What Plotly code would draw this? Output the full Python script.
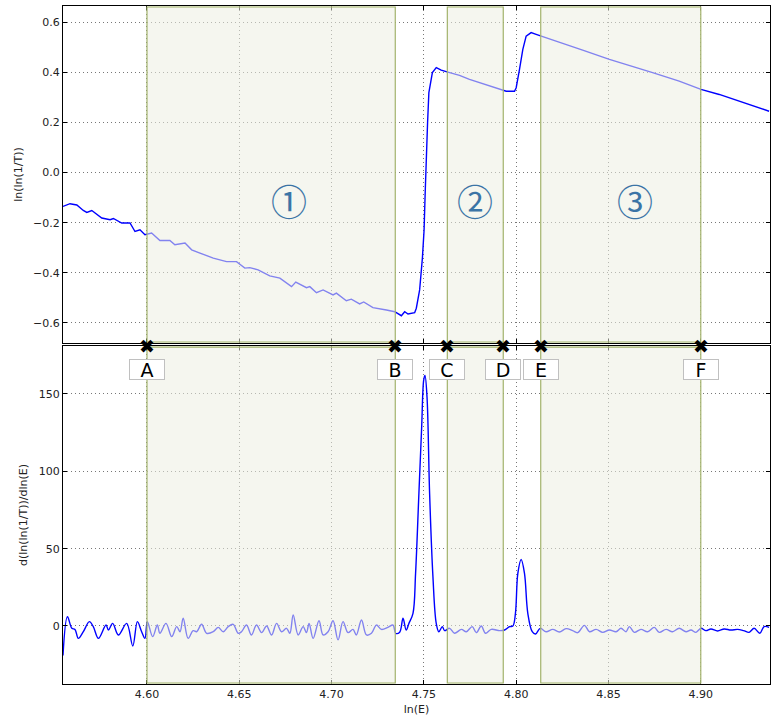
import plotly.graph_objects as go
from plotly.subplots import make_subplots

# ---------------- data ----------------
top_x = [4.5545, 4.5583, 4.5620, 4.5655, 4.5674, 4.5701, 4.5755, 4.5800, 4.5818, 4.5863,
         4.5908, 4.5935, 4.5962, 4.5989, 4.6025, 4.6070, 4.6124, 4.6151, 4.6206, 4.6242,
         4.6287, 4.6359, 4.6431, 4.6485, 4.6530, 4.6557, 4.6602, 4.6665, 4.6720, 4.6783,
         4.6806, 4.6864, 4.6882, 4.6918, 4.6954, 4.7008, 4.7026, 4.7080, 4.7107, 4.7152,
         4.7174, 4.7224, 4.7297, 4.7342, 4.7378, 4.7396, 4.7414, 4.7450, 4.7459, 4.7477,
         4.7492, 4.7501, 4.7507, 4.7513, 4.7520, 4.7527, 4.7546, 4.7567, 4.7594, 4.7630,
         4.7693, 4.7747, 4.7802, 4.7856, 4.7910, 4.7946, 4.7991, 4.8000, 4.8018, 4.8036,
         4.8054, 4.8081, 4.8108, 4.8135, 4.8234, 4.8360, 4.8505, 4.8631, 4.8739, 4.8883,
         4.9001, 4.9100, 4.9208, 4.9316, 4.9370]
top_y = [-0.135, -0.124, -0.129, -0.151, -0.159, -0.151, -0.181, -0.188, -0.183, -0.201,
         -0.201, -0.235, -0.228, -0.248, -0.241, -0.271, -0.271, -0.288, -0.281, -0.308,
         -0.321, -0.341, -0.355, -0.355, -0.381, -0.379, -0.388, -0.412, -0.421, -0.455,
         -0.437, -0.459, -0.455, -0.479, -0.468, -0.488, -0.481, -0.511, -0.505, -0.524,
         -0.516, -0.539, -0.548, -0.555, -0.571, -0.555, -0.564, -0.559, -0.541, -0.468,
         -0.340, -0.230, -0.081, 0.080, 0.200, 0.319, 0.399, 0.419, 0.409, 0.401,
         0.388, 0.372, 0.359, 0.345, 0.332, 0.325, 0.325, 0.339, 0.412, 0.492,
         0.545, 0.559, 0.552, 0.545, 0.519, 0.489, 0.452, 0.425, 0.399, 0.365,
         0.332, 0.312, 0.285, 0.259, 0.245]

bot_x = [4.5545, 4.5569, 4.5593, 4.5610, 4.5628, 4.5655, 4.5688, 4.5709, 4.5737, 4.5778,
         4.5791, 4.5814, 4.5845, 4.5890, 4.5923, 4.5948, 4.5971, 4.5989, 4.6002, 4.6031,
         4.6056, 4.6070, 4.6103, 4.6134, 4.6161, 4.6179, 4.6196, 4.6223, 4.6250, 4.6269,
         4.6296, 4.6323, 4.6359, 4.6386, 4.6413, 4.6440, 4.6467, 4.6494, 4.6512, 4.6539,
         4.6566, 4.6593, 4.6621, 4.6648, 4.6675, 4.6702, 4.6729, 4.6756, 4.6774, 4.6792,
         4.6819, 4.6846, 4.6864, 4.6878, 4.6900, 4.6932, 4.6954, 4.6981, 4.7008, 4.7035,
         4.7062, 4.7089, 4.7116, 4.7134, 4.7162, 4.7189, 4.7216, 4.7243, 4.7270, 4.7305,
         4.7333, 4.7347, 4.7369, 4.7387, 4.7404, 4.7419, 4.7441, 4.7455, 4.7473, 4.7488,
         4.7499, 4.7506, 4.7517, 4.7531, 4.7549, 4.7567, 4.7581, 4.7600, 4.7612, 4.7639,
         4.7666, 4.7703, 4.7730, 4.7762, 4.7784, 4.7811, 4.7834, 4.7865, 4.7910, 4.7937,
         4.7964, 4.7982, 4.7996, 4.8009, 4.8027, 4.8045, 4.8063, 4.8087, 4.8105, 4.8130,
         4.8162, 4.8198, 4.8234, 4.8270, 4.8306, 4.8333, 4.8370, 4.8397, 4.8433, 4.8469,
         4.8505, 4.8541, 4.8568, 4.8595, 4.8613, 4.8640, 4.8676, 4.8712, 4.8748, 4.8775,
         4.8812, 4.8847, 4.8883, 4.8920, 4.8947, 4.8974, 4.9001, 4.9028, 4.9055, 4.9091,
         4.9127, 4.9163, 4.9199, 4.9232, 4.9262, 4.9289, 4.9320, 4.9343, 4.9370]
bot_y = [-19.0, 6.0, -1.5, -2.2, -8.0, -3.7, 2.8, -0.4, -8.0, 0.6,
         -2.6, 1.7, -5.8, 1.7, -12.9, 2.8, -3.7, -8.0, 2.8, -6.9,
         0.6, -4.7, 1.7, -6.9, -0.4, -3.7, 5.0, -8.0, -3.0, -3.7,
         1.1, -4.7, -3.7, -0.9, -3.7, -0.4, 1.1, -4.7, -3.7, 0.6,
         -5.8, 0.6, -4.3, 0.0, -5.8, 1.7, -3.7, -1.5, -4.7, 7.1,
         -5.8, -0.4, -4.3, 1.7, -8.0, 3.4, -5.8, -3.7, 3.4, -9.0,
         2.8, -4.3, -2.2, -5.8, 3.9, -5.8, -4.7, 0.6, -2.2, -0.9,
         0.6, -4.7, -4.0, 5.0, -2.6, 1.7, 8.2, 34.0, 85.7, 128.7,
         158.9, 162.0, 148.0, 85.7, 31.9, 1.7, -3.7, -0.4, -3.0, -1.5,
         -4.7, -2.2, -3.7, -0.4, -4.3, 0.0, -4.7, -2.2, -3.0, -2.6,
         -0.4, 0.0, 8.2, 34.0, 43.0, 34.0, 8.2, -3.7, -5.2, -1.5,
         -3.7, -2.2, -3.9, -1.7, -3.0, -4.3, 0.4, -3.7, -2.2, -4.1,
         -2.6, -3.7, -1.5, -3.7, -0.4, -4.1, -2.2, -3.7, -0.9, -4.1,
         -2.2, -3.7, -1.5, -3.7, -2.6, -4.1, -1.5, -3.0, -1.9, -3.2,
         -1.9, -2.6, -2.2, -3.0, -4.1, -1.5, -4.7, -0.4, -0.9]

marker_names = ["A", "B", "C", "D", "E", "F"]
marker_x = [4.600, 4.7345, 4.7627, 4.7930, 4.8133, 4.900]
region_labels = ["\u2460", "\u2461", "\u2462"]
region_label_x = [4.6768, 4.7775, 4.8641]
region_label_y = -0.108
label_box_y = 166

# ---------------- figure ----------------
fig = make_subplots(rows=2, cols=1, shared_xaxes=True)

fig.add_trace(go.Scatter(x=top_x, y=top_y, mode="lines",
                         line=dict(color="#0000ff", width=1.4), showlegend=False),
              row=1, col=1)
fig.add_trace(go.Scatter(x=bot_x, y=bot_y, mode="lines",
                         line=dict(color="#0000ff", width=1.4, shape="spline", smoothing=1.0),
                         showlegend=False),
              row=2, col=1)

shapes = []
regions = [(marker_x[0], marker_x[1]), (marker_x[2], marker_x[3]), (marker_x[4], marker_x[5])]
for (x0, x1) in regions:
    for yr in ["y domain", "y2 domain"]:
        xr = "x" if yr == "y domain" else "x2"
        shapes.append(dict(type="rect", xref=xr, yref=yr, x0=x0, x1=x1, y0=0, y1=1,
                           fillcolor="rgba(236,238,226,0.55)", line=dict(width=0),
                           layer="above"))
        shapes.append(dict(type="rect", xref=xr, yref=yr, x0=x0, x1=x1, y0=0.003, y1=0.997,
                           fillcolor="rgba(0,0,0,0)", line=dict(color="#a3b36c", width=1.2),
                           layer="above"))

annotations = []
for t, x in zip(region_labels, region_label_x):
    annotations.append(dict(x=x, y=region_label_y, xref="x", yref="y", text=t,
                            showarrow=False, font=dict(size=36, color="#3b74a6",
                                                       family="Noto Sans CJK JP")))
for n, x in zip(marker_names, marker_x):
    annotations.append(dict(x=x, y=1, xref="x2", yref="y2 domain", text="\u2716",
                            showarrow=False, yanchor="middle",
                            font=dict(size=19, color="black", family="DejaVu Sans")))
    annotations.append(dict(x=x, y=label_box_y, xref="x2", yref="y2", text=n,
                            showarrow=False, bgcolor="white", bordercolor="#c0c0c0",
                            borderwidth=1, width=34, height=19, borderpad=0,
                            font=dict(size=19, color="black", family="DejaVu Sans")))

axis_common = dict(showline=True, linecolor="black", linewidth=1.3, mirror="ticks",
                   ticks="inside", ticklen=4, tickcolor="black",
                   showgrid=True, gridcolor="#777777", griddash="1px,3px", gridwidth=1,
                   zeroline=False, tickfont=dict(size=11, color="#222", family="DejaVu Sans"))

fig.update_layout(
    width=771, height=720,
    margin=dict(l=63, r=1, t=6, b=36),
    plot_bgcolor="white", paper_bgcolor="white",
    font=dict(family="DejaVu Sans", size=11, color="#222"),
    shapes=shapes, annotations=annotations,
    xaxis=dict(axis_common, range=[4.5545, 4.9375], dtick=0.05, tick0=4.6,
               showticklabels=False, domain=[0, 1]),
    xaxis2=dict(axis_common, range=[4.5545, 4.9375], dtick=0.05, tick0=4.6,
                tickformat=".2f", domain=[0, 1],
                title=dict(text="ln(E)", standoff=4, font=dict(size=11))),
    yaxis=dict(axis_common, range=[-0.68, 0.665], dtick=0.2, tick0=0, tickformat=".1f",
               domain=[0.5029, 1],
               title=dict(text="ln(ln(1/T))", standoff=8, font=dict(size=11))),
    yaxis2=dict(axis_common, range=[-37.5, 181], dtick=50, tick0=0,
                domain=[0, 0.4985],
                title=dict(text="d(ln(ln(1/T))/dln(E)", standoff=8, font=dict(size=11))),
)

fig.write_html("out.html")
